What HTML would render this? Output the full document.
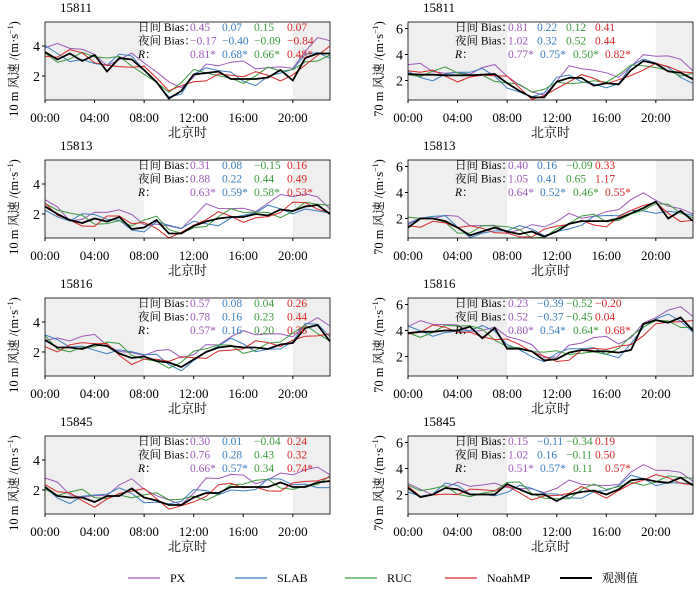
<!DOCTYPE html>
<html><head><meta charset="utf-8"><style>
body{margin:0;background:#fff}
svg{display:block;font-family:"Liberation Serif","Noto Serif CJK SC",serif}
</style></head><body>
<svg id="s" width="700" height="589" xmlns="http://www.w3.org/2000/svg"></svg>
<script>
const S=document.getElementById('s');let h='';
const C=['#9b59b6','#3a7ebf','#3c9a3c','#d62728','#000'];
const obs=[
[3.6,3.1,3.5,3.0,3.4,2.3,3.2,3.1,2.4,1.6,0.5,1.0,2.1,2.2,2.3,1.8,1.8,1.8,1.9,2.4,1.7,3.2,3.5,3.5],
[2.5,2.45,2.45,2.4,2.4,2.4,2.45,2.5,1.8,1.2,0.7,0.7,1.9,2.2,2.2,1.6,1.8,1.7,2.8,3.5,3.3,2.7,2.6,2.1],
[2.5,2.0,1.6,1.4,1.7,1.5,1.8,1.0,1.1,1.6,0.7,0.7,1.2,1.5,1.7,1.8,1.8,2.0,1.9,2.3,2.2,2.5,2.6,2.0],
[1.3,2.0,2.0,1.8,1.3,0.7,1.0,1.3,1.0,0.8,1.0,0.6,1.0,1.6,1.8,1.8,1.8,2.0,2.4,2.8,3.3,2.0,2.6,1.8],
[2.8,2.3,2.3,2.2,2.5,2.4,1.9,1.6,1.7,1.4,1.3,1.0,1.5,2.0,2.3,2.4,2.3,2.3,2.2,2.5,2.6,3.6,3.8,2.7],
[3.8,3.9,3.9,4.0,4.0,4.3,3.4,4.2,2.6,2.6,2.4,1.7,1.8,2.3,2.5,2.4,2.4,2.3,2.5,4.5,4.8,4.6,5.0,4.0],
[2.2,1.6,1.5,1.5,1.2,1.6,1.6,2.1,1.5,1.3,1.0,1.0,1.5,1.8,1.8,2.2,2.2,2.2,2.2,2.5,2.2,2.2,2.5,2.6],
[2.5,1.8,2.0,2.5,2.4,2.0,2.0,2.0,2.8,2.4,2.0,2.0,1.5,2.0,2.2,2.3,2.0,2.4,3.1,3.2,3.0,2.9,3.3,2.7]];
const txt=[
[['0.45','0.07','0.15','0.07'],['−0.17','−0.40','−0.09','−0.84'],['0.81*','0.68*','0.66*','0.48*']],
[['0.81','0.22','0.12','0.41'],['1.02','0.32','0.52','0.44'],['0.77*','0.75*','0.50*','0.82*']],
[['0.31','0.08','−0.15','0.16'],['0.88','0.22','0.44','0.49'],['0.63*','0.59*','0.58*','0.53*']],
[['0.40','0.16','−0.09','0.33'],['1.05','0.41','0.65','1.17'],['0.64*','0.52*','0.46*','0.55*']],
[['0.57','0.08','0.04','0.26'],['0.78','0.16','0.23','0.44'],['0.57*','0.16','0.20','0.36']],
[['0.23','−0.39','−0.52','−0.20'],['0.52','−0.37','−0.45','0.04'],['0.80*','0.54*','0.64*','0.68*']],
[['0.30','0.01','−0.04','0.24'],['0.76','0.28','0.43','0.32'],['0.66*','0.57*','0.34','0.74*']],
[['0.15','−0.11','−0.34','0.19'],['1.02','0.16','−0.11','0.50'],['0.51*','0.57*','0.11','0.57*']]];
const names=['15811','15813','15816','15845'];
for(let p=0;p<8;p++){
 const r=Math.floor(p/2),right=p%2;
 const x0=right?408:45,y0=22+138*r,W=285,H=78;
 const ymin=right?0.5:0.4,ymax=right?6.5:5.6;
 const X=t=>x0+t*W/23,Y=v=>y0+H-(v-ymin)/(ymax-ymin)*H;
 h+=`<rect x="${x0}" y="${y0}" width="${X(8)-x0}" height="${H}" fill="#efefef"/>`;
 h+=`<rect x="${X(20)}" y="${y0}" width="${x0+W-X(20)}" height="${H}" fill="#efefef"/>`;
 const o=obs[p];
 const sm=o.map((v,i)=>((o[i-1]??v)+2*v+(o[i+1]??v))/4);
 const b=[0.4,0.05,0.1,0.0];
 for(let m=0;m<4;m++){
  const d=sm.map((v,i)=>v+b[m]+0.35*Math.sin(i*0.9+m*1.9+p*1.3)+0.2*Math.sin(i*2.1+m)+(m==0&&i>12?0.3:0));
  h+=`<polyline fill="none" stroke="${C[m]}" stroke-width="1" points="${d.map((v,i)=>X(i).toFixed(1)+','+Y(Math.max(ymin,Math.min(ymax,v))).toFixed(1)).join(' ')}"/>`;
 }
 h+=`<polyline fill="none" stroke="#000" stroke-width="1.8" points="${o.map((v,i)=>X(i).toFixed(1)+','+Y(v).toFixed(1)).join(' ')}"/>`;
 h+=`<rect x="${x0}" y="${y0}" width="${W}" height="${H}" fill="none" stroke="#000" stroke-width="0.8"/>`;
 const ticks=right?[2,4,6]:[2,4];
 for(const t of ticks){h+=`<line x1="${x0-3}" x2="${x0}" y1="${Y(t)}" y2="${Y(t)}" stroke="#000"/><text x="${x0-5}" y="${Y(t)+5}" font-size="14" text-anchor="end">${t}</text>`;}
 for(let t=0;t<=20;t+=4){h+=`<line x1="${X(t)}" x2="${X(t)}" y1="${y0+H}" y2="${y0+H+3}" stroke="#000"/><text x="${X(t)}" y="${y0+H+22}" font-size="13" text-anchor="middle">${String(t).padStart(2,'0')}:00</text>`;}
 h+=`<text x="${x0+W/2}" y="${y0+H+37}" font-size="13" text-anchor="middle">北京时</text>`;
 h+=`<text x="${x0+15}" y="${y0-10}" font-size="13">${names[r]}</text>`;
 const ly=(right?x0-25:x0-27), cy=y0+H/2+8;
 h+=`<text transform="translate(${ly},${cy}) rotate(-90)" font-size="12.5" text-anchor="middle">${right?'70':'10'} m 风速 /(m·s<tspan font-size="8" dy="-5">−1</tspan><tspan dy="5">)</tspan></text>`;
 const lx=right?455:138, cols=right?[[508,537,566,595],[508,537,566,595],[508,540,573,605]]:[[190,222,254,287],[190,222,254,287],[190,222,254,287]];
 const labs=['日间 Bias：','夜间 Bias：','<tspan font-style="italic">R</tspan>：'];
 for(let k=0;k<3;k++){const yy=y0+9+k*13.5;
  h+=`<text x="${lx}" y="${yy}" font-size="11.5">${labs[k]}</text>`;
  for(let m=0;m<4;m++)h+=`<text x="${cols[k][m]}" y="${yy}" font-size="11.5" fill="${C[m]}">${txt[p][k][m]}</text>`;
 }
}
const L=[['PX',128],['SLAB',235],['RUC',345],['NoahMP',445],['观测值',560]];
L.forEach(([n,x],i)=>{h+=`<line x1="${x}" x2="${x+32}" y1="578" y2="578" stroke="${C[i]}" stroke-width="${i==4?2:1.3}"/><text x="${x+42}" y="582" font-size="12">${n}</text>`;});
S.innerHTML=h;
</script>
</body></html>
